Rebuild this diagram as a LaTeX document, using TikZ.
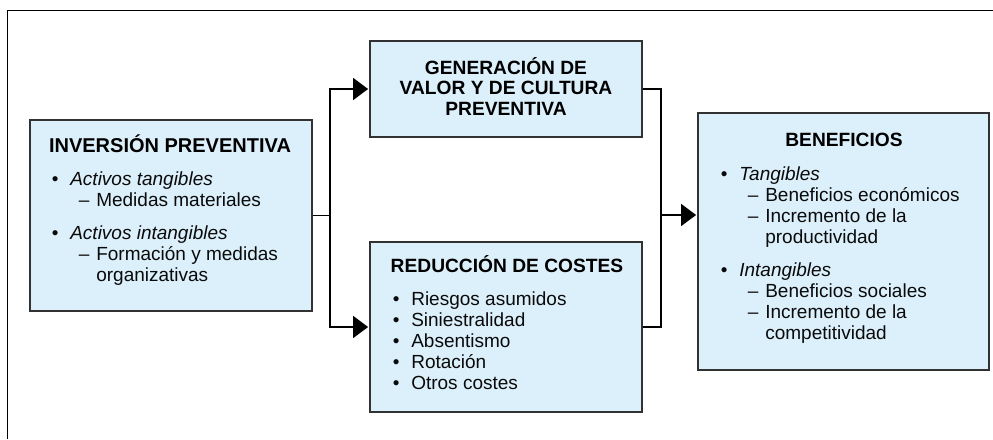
\documentclass[tikz,border=0pt]{standalone}
\usepackage{fontspec}
\setmainfont{Liberation Sans}
\usetikzlibrary{arrows.meta}

\definecolor{boxfill}{RGB}{220,240,251}
\definecolor{boxline}{RGB}{50,50,50}
\definecolor{txt}{RGB}{10,10,10}

% list helpers
\newcommand{\bul}{\makebox[18.5pt][l]{\textbullet}}
\newcommand{\sub}{\hspace*{27pt}\makebox[17.5pt][l]{--}}
\newcommand{\cont}{\hspace*{44.5pt}}
\newcommand{\gap}{\\[12.5pt]}

\begin{document}
\begin{tikzpicture}[x=1pt, y=-1pt, line width=1.6pt, draw=black]
      \tikzstyle{box}=[rectangle, draw=boxline, line width=1.8pt, fill=boxfill, inner sep=0pt]
      \tikzstyle{title}=[inner sep=0pt, anchor=base, font=\fontsize{19.2}{20.5}\selectfont\bfseries, align=center]
      \tikzstyle{items}=[inner sep=0pt, anchor=base west, text=txt, font=\fontsize{19}{21}\selectfont]
      \tikzstyle{arrow}=[-{Triangle[length=15pt, width=22pt]}, shorten >=1pt]

      \useasboundingbox (0,0) rectangle (993,439);
      \draw[line width=0.9pt] (7,439) -- (7,10) -- (993,10);

      % boxes
      \node[box, minimum width=282pt, minimum height=191pt] (inv) at (171,215.5) {};
      \node[box, minimum width=272pt, minimum height=96pt] (gen) at (506,89) {};
      \node[box, minimum width=272pt, minimum height=170pt] (red) at (506,327) {};
      \node[box, minimum width=291pt, minimum height=257pt] (ben) at (843.5,241.5) {};

      % titles
      \node[title, font=\fontsize{20}{20.5}\selectfont\bfseries] (invT) at (170,152.7) {INVERSIÓN PREVENTIVA};
      \node[title] (genT) at (506,74) {\begin{tabular}[t]{@{}c@{}}GENERACIÓN DE\\VALOR Y DE CULTURA\\PREVENTIVA\end{tabular}};
      \node[title] (redT) at (507,272.7) {REDUCCIÓN DE COSTES};
      \node[title] (benT) at (844,146) {BENEFICIOS};

      % lists
      \node[items] (invL) at (51,185) {\begin{tabular}[t]{@{}l@{}}
        \bul\textit{Activos tangibles}\\
        \sub Medidas materiales\gap
        \bul\textit{Activos intangibles}\\
        \sub Formación y medidas\\
        \cont organizativas
      \end{tabular}};
      \node[items] (redL) at (392,305) {\begin{tabular}[t]{@{}l@{}}
        \bul Riesgos asumidos\\
        \bul Siniestralidad\\
        \bul Absentismo\\
        \bul Rotación\\
        \bul Otros costes
      \end{tabular}};
      \node[items] (benL) at (720,180) {\begin{tabular}[t]{@{}l@{}}
        \bul\textit{Tangibles}\\
        \sub Beneficios económicos\\
        \sub Incremento de la\\
        \cont productividad\gap
        \bul\textit{Intangibles}\\
        \sub Beneficios sociales\\
        \sub Incremento de la\\
        \cont competitividad
      \end{tabular}};

      % connectors
      \coordinate (split) at (330,215.5);
      \coordinate (join) at (661,215);
      \draw (inv.east) -- (split);
      \draw[arrow] (split) |- (gen.west);
      \draw[arrow] (split) |- (red.west);
      \draw (gen.east) -| (join) |- (red.east);
      \draw[arrow] (join) -- (join -| ben.west);
\end{tikzpicture}
\end{document}
